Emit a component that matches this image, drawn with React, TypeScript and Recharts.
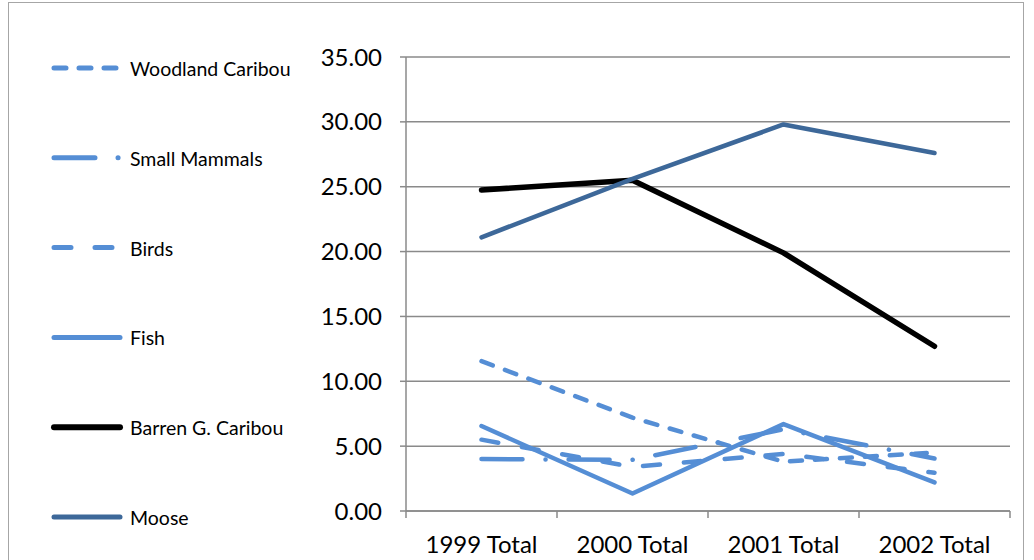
import React from 'react';
import { LineChart, Line, XAxis, YAxis, CartesianGrid } from 'recharts';

// Categories and per-series values
const categories = ['1999 Total', '2000 Total', '2001 Total', '2002 Total'];
const woodlandCaribou = [11.55, 7.2, 3.8, 4.5];
const smallMammals = [4.0, 3.95, 6.3, 4.05];
const birds = [5.5, 3.4, 4.4, 2.95];
const fish = [6.55, 1.35, 6.7, 2.2];
const barrenGCaribou = [24.75, 25.5, 19.9, 12.7];
const moose = [21.1, 25.6, 29.8, 27.6];
const yTicks = [0, 5, 10, 15, 20, 25, 30, 35];

const LIGHT = '#558ED5';
const DARK = '#3D6899';

const series = [
  { key: 'woodland', name: 'Woodland Caribou', values: woodlandCaribou, color: LIGHT, width: 4.5, dash: '12 13' },
  { key: 'smallMammals', name: 'Small Mammals', values: smallMammals, color: LIGHT, width: 4.5, dash: '41 23 0.1 23' },
  { key: 'birds', name: 'Birds', values: birds, color: LIGHT, width: 4.5, dash: '17 24' },
  { key: 'fish', name: 'Fish', values: fish, color: LIGHT, width: 4.5, dash: undefined },
  { key: 'barren', name: 'Barren G. Caribou', values: barrenGCaribou, color: '#000000', width: 5.5, dash: undefined },
  { key: 'moose', name: 'Moose', values: moose, color: DARK, width: 4.5, dash: undefined },
];

const data = categories.map((c, i) => {
  const row: Record<string, string | number> = { category: c };
  series.forEach((s) => {
    row[s.key] = s.values[i];
  });
  return row;
});

const FONT = 'Lato, "Open Sans", sans-serif';
const AXIS_GRAY = '#8A8A8A';

const CHART_W = 1034;
const CHART_H = 560;
const X_AXIS_H = 30;
const MARGIN = { top: 57, right: 24, bottom: 19, left: 346 };
const Y_AXIS_W = 60;
const PLOT_BOTTOM = CHART_H - MARGIN.bottom - X_AXIS_H;
const BAND = (CHART_W - MARGIN.right - MARGIN.left - Y_AXIS_W) / categories.length;

// Category label centred in its band, with tick marks on the band edges
const CategoryTick = (props: any) => {
  const { x, payload, index } = props;
  const axisY = PLOT_BOTTOM;
  return (
    <g>
      <line x1={x - BAND / 2} x2={x - BAND / 2} y1={axisY} y2={axisY + 7} stroke={AXIS_GRAY} strokeWidth={1.5} />
      {index === categories.length - 1 && (
        <line x1={x + BAND / 2} x2={x + BAND / 2} y1={axisY} y2={axisY + 7} stroke={AXIS_GRAY} strokeWidth={1.5} />
      )}
      <text x={x} y={axisY + 42} textAnchor="middle" fontSize={24} fontFamily={FONT} fill="#000">
        {payload.value}
      </text>
    </g>
  );
};

const LegendPanel = () => (
  <svg width={330} height={CHART_H} style={{ position: 'absolute', left: 0, top: 0 }}>
    {series.map((s, i) => {
      const y = 68 + i * 89.8;
      return (
        <g key={s.key}>
          <line
            x1={54}
            x2={120}
            y1={y}
            y2={y}
            stroke={s.color}
            strokeWidth={s.width + 0.5}
            strokeDasharray={s.dash}
            strokeLinecap="round"
          />
          <text x={130} y={y + 8} fontSize={19.5} fontFamily={FONT} fill="#000">
            {s.name}
          </text>
        </g>
      );
    })}
  </svg>
);

export default function App() {
  return (
    <div style={{ position: 'absolute', left: 0, top: 0, width: CHART_W, height: CHART_H, background: '#fff', overflow: 'hidden' }}>
      <div
        style={{
          position: 'absolute',
          left: 8,
          top: 2,
          width: 1016,
          height: 640,
          border: '1px solid #A6A6A6',
          boxSizing: 'border-box',
        }}
      />
      <LineChart width={CHART_W} height={CHART_H} data={data} margin={MARGIN}>
        <CartesianGrid vertical={false} stroke={AXIS_GRAY} strokeWidth={1.5} />
        <XAxis
          dataKey="category"
          scale="band"
          height={X_AXIS_H}
          tickLine={false}
          axisLine={{ stroke: AXIS_GRAY, strokeWidth: 1.5 }}
          tick={<CategoryTick />}
          interval={0}
        />
        <YAxis
          width={Y_AXIS_W}
          domain={[0, 35]}
          ticks={yTicks}
          tickFormatter={(v: number) => v.toFixed(2)}
          tickSize={6}
          tickMargin={18}
          tickLine={{ stroke: AXIS_GRAY, strokeWidth: 1.5 }}
          axisLine={{ stroke: AXIS_GRAY, strokeWidth: 1.5 }}
          tick={{ fontSize: 24, fontFamily: FONT, fill: '#000' }}
          interval={0}
        />
        {series.map((s) => (
          <Line
            key={s.key}
            dataKey={s.key}
            name={s.name}
            type="linear"
            stroke={s.color}
            strokeWidth={s.width}
            strokeDasharray={s.dash}
            strokeLinecap="round"
            strokeLinejoin="round"
            dot={false}
            activeDot={false}
            isAnimationActive={false}
          />
        ))}
      </LineChart>
      <LegendPanel />
    </div>
  );
}
